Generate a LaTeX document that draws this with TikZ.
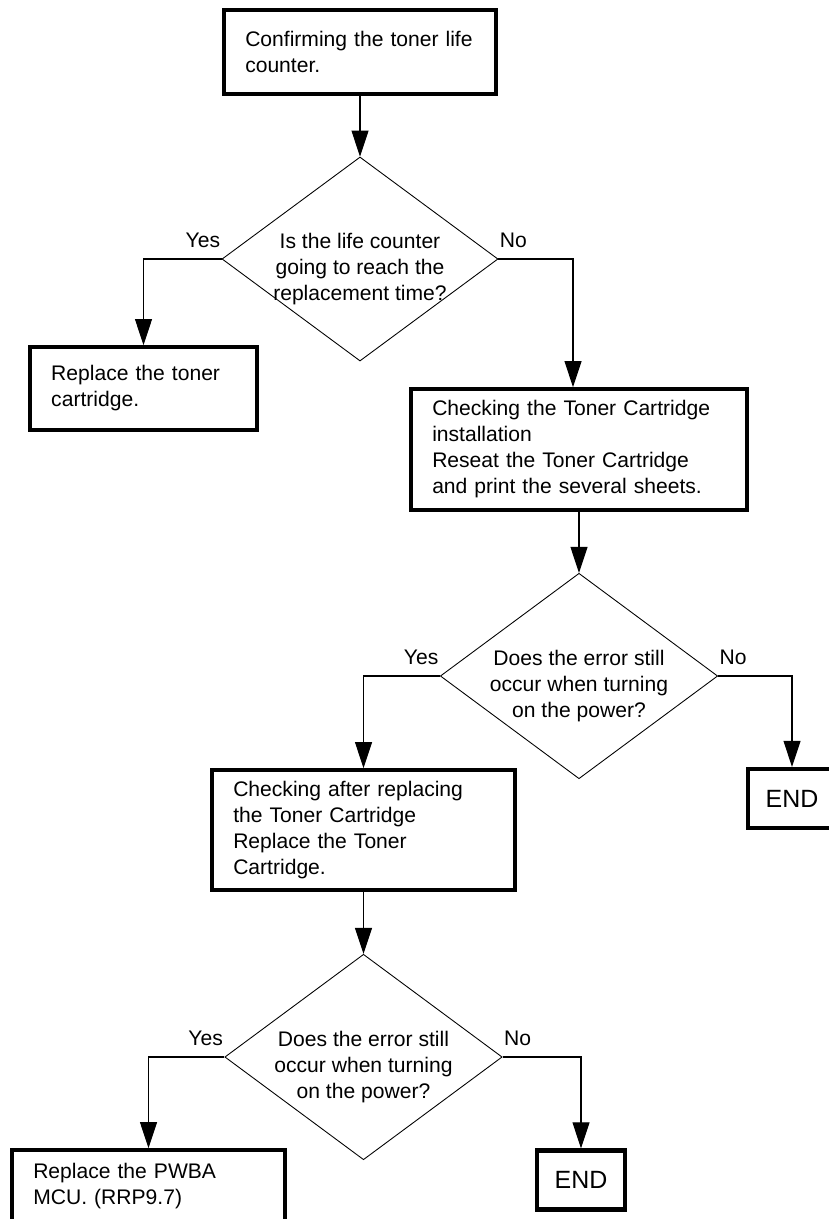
\documentclass[tikz,border=0pt]{standalone}
\usepackage{fontspec}
\setmainfont{Liberation Sans}
\usetikzlibrary{
  shapes.geometric,
  arrows.meta
}
\newcommand{\dlift}{\rule{0pt}{0.69cm}}

\begin{document}
\begin{tikzpicture}[
  box/.style={rectangle, draw, line width=2.5pt, align=left, inner xsep=0.42cm, inner ysep=0pt, font=\fontsize{12}{14.8}\selectfont},
  endbox/.style={rectangle, draw, line width=2.5pt, minimum width=1.77cm, minimum height=1.18cm, font=\fontsize{14.2}{17}\selectfont},
  decision/.style={diamond, draw, line width=0.5pt, aspect=1.35, inner sep=-0.1cm, minimum width=5.52cm, minimum height=4.08cm, align=center, font=\fontsize{12}{14.8}\selectfont},
  arr/.style={-{Triangle[length=0.52cm, width=0.34cm]}, line width=0.6pt},
  lbl/.style={font=\fontsize{12}{14.8}\selectfont, inner xsep=0.02cm, inner ysep=0.22cm}
]
  \useasboundingbox (0,0) rectangle (16.58,-24.38);
  \clip (0,0) rectangle (16.58,-24.38);

  \node[box, text width=4.59cm, minimum height=1.67cm] (confirm) at (7.2,-1.04) {Confirming the toner life\\counter.};
  \node[decision] (lifecheck) at (7.2,-5.18) {\dlift Is the life counter\\going to reach the\\replacement time?};
  \node[box, text width=3.69cm, minimum height=1.65cm] (replacetoner) at (2.87,-7.77) {Replace the toner\\cartridge.};
  \node[box, text width=5.87cm, minimum height=2.41cm] (reseat) at (11.58,-8.99) {Checking the Toner Cartridge\\installation\\Reseat the Toner Cartridge\\and print the several sheets.};
  \node[decision] (errcheck1) at (11.58,-13.52) {\dlift Does the error still\\occur when turning\\on the power?};
  \node[endbox] (end1) at (15.84,-15.97) {END};
  \node[box, text width=5.21cm, minimum height=2.39cm] (newtoner) at (7.27,-16.6) {Checking after replacing\\the Toner Cartridge\\Replace the Toner\\Cartridge.};
  \node[decision] (errcheck2) at (7.27,-21.14) {\dlift Does the error still\\occur when turning\\on the power?};
  \node[box, text width=4.61cm, minimum height=1.43cm] (replacemcu) at (2.97,-23.72) {Replace the PWBA\\MCU. (RRP9.7)};
  \node[endbox] (end2) at (11.62,-23.6) {END};

  \draw[arr] (confirm) -- (lifecheck);
  \draw[arr] (lifecheck.west) node[lbl, above left]{Yes} -| (replacetoner.north);
  \draw[arr] (lifecheck.east) node[lbl, above right]{No} -| ([xshift=-0.12cm]reseat.north);
  \draw[arr] (reseat) -- (errcheck1);
  \draw[arr] (errcheck1.west) node[lbl, above left]{Yes} -| (newtoner.north);
  \draw[arr] (errcheck1.east) node[lbl, above right]{No} -| (end1.north);
  \draw[arr] (newtoner) -- (errcheck2);
  \draw[arr] (errcheck2.west) node[lbl, above left]{Yes} -| (replacemcu.north);
  \draw[arr] (errcheck2.east) node[lbl, above right]{No} -| (end2.north);
\end{tikzpicture}
\end{document}
